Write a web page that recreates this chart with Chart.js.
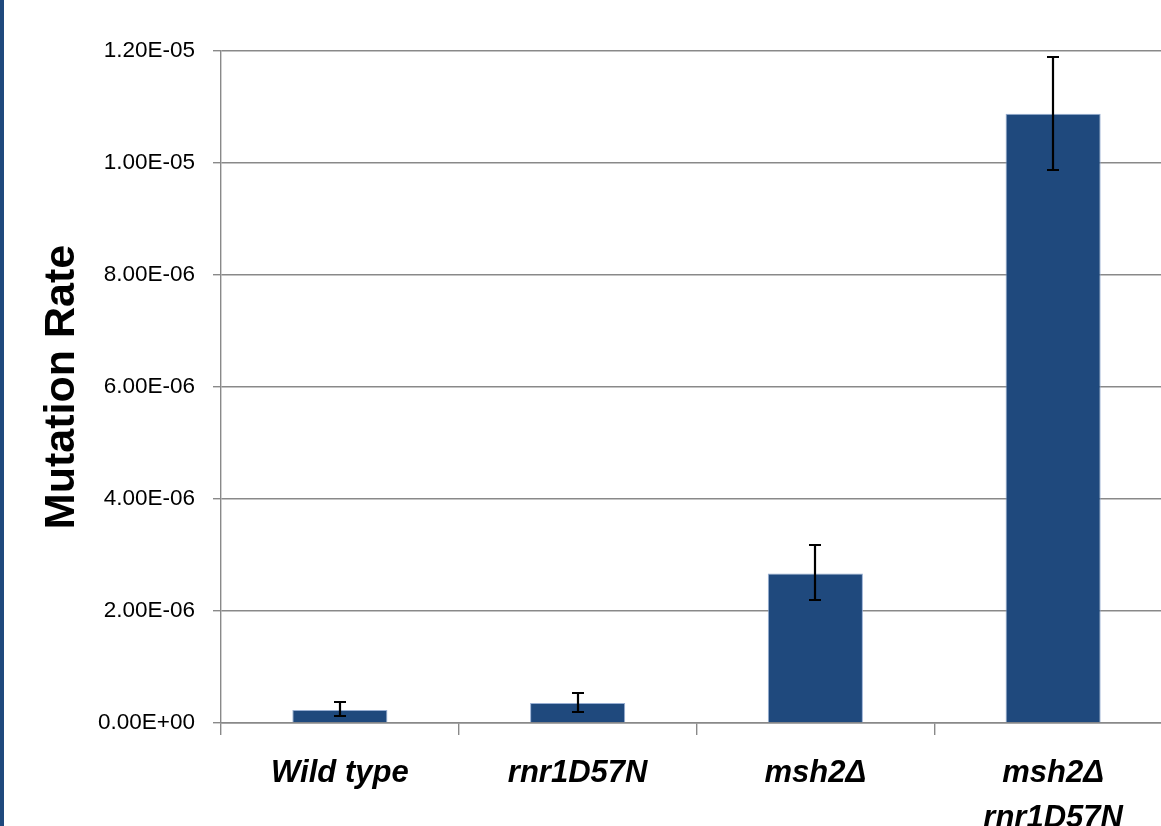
<!DOCTYPE html>
<html>
<head>
<meta charset="utf-8">
<title>Mutation Rate</title>
<script src="https://cdn.jsdelivr.net/npm/chart.js@4.4.1/dist/chart.umd.min.js"></script>
<style>
  html, body { margin: 0; padding: 0; background: #fff; overflow: hidden; }
  #wrap { position: relative; width: 1161px; height: 826px; overflow: hidden; }
  #wrap::before {
    content: ''; position: absolute; left: 0; top: 0; bottom: 0; width: 4px;
    background: #1f497d; z-index: 2;
  }
  canvas { position: absolute; left: 0; top: 0; }
</style>
</head>
<body>
<div id="wrap"><canvas id="chart" width="1180" height="826"></canvas></div>
<script>
// strains on the x axis (last one wraps onto two lines)
const strains = ['Wild type', 'rnr1D57N', 'msh2\u0394', ['msh2\u0394', 'rnr1D57N']];
// mutation rate per strain
const rates   = [2.32e-7, 3.57e-7, 2.67e-6, 1.088e-5];
// error bar bounds
const errLow  = [1.18e-7, 2.0e-7, 2.20e-6, 9.88e-6];
const errHigh = [3.68e-7, 5.36e-7, 3.17e-6, 1.19e-5];
// y axis ticks
const yTicks  = [0, 2e-6, 4e-6, 6e-6, 8e-6, 1e-5, 1.2e-5];

const GRID = '#898989';
const BAR  = '#1f497d';

// 1.20E-05 style, like the spreadsheet axis
function sci(v) {
  const [m, e] = Number(v).toExponential(2).split('e');
  const n = parseInt(e, 10);
  return m + 'E' + (n < 0 ? '-' : '+') + String(Math.abs(n)).padStart(2, '0');
}

const errorBars = {
  id: 'errorBars',
  afterDatasetsDraw(chart) {
    const { ctx, scales: { y } } = chart;
    const meta = chart.getDatasetMeta(0);
    ctx.save();
    ctx.strokeStyle = '#000';
    ctx.lineWidth = 2.2;
    meta.data.forEach((bar, i) => {
      const x = Math.round(bar.x);
      const top = Math.round(y.getPixelForValue(errHigh[i]));
      const bot = Math.round(y.getPixelForValue(errLow[i]));
      ctx.beginPath();
      ctx.moveTo(x, top); ctx.lineTo(x, bot);
      ctx.moveTo(x - 6, top); ctx.lineTo(x + 6, top);
      ctx.moveTo(x - 6, bot); ctx.lineTo(x + 6, bot);
      ctx.stroke();
    });
    ctx.restore();
  }
};

new Chart(document.getElementById('chart'), {
  type: 'bar',
  data: {
    labels: strains,
    datasets: [{
      data: rates,
      backgroundColor: BAR,
      borderColor: 'rgba(140,165,205,0.9)',
      borderWidth: 1,
      barPercentage: 0.4,
      categoryPercentage: 1,
    }],
  },
  options: {
    responsive: false,
    animation: false,
    layout: { padding: { top: 51, right: 8, bottom: 0, left: 0 } },
    plugins: { legend: { display: false }, tooltip: { enabled: false } },
    scales: {
      x: {
        offset: true,
        grid: { offset: true, drawOnChartArea: false, color: GRID, tickLength: 12, lineWidth: 1.4 },
        border: { color: GRID, width: 1.4 },
        ticks: {
          color: '#000',
          padding: 16,
          maxRotation: 0,
          autoSkip: false,
          font: { family: '"Liberation Sans", Arial, sans-serif', size: 31, weight: 'bold', style: 'italic', lineHeight: 1.45 },
        },
        afterFit(scale) { scale.height = 103; },
      },
      y: {
        min: 0,
        max: 1.2e-5,
        grid: { color: GRID, tickLength: 8, lineWidth: 1.4 },
        border: { color: GRID, width: 1.4 },
        afterBuildTicks(scale) { scale.ticks = yTicks.map(v => ({ value: v })); },
        ticks: {
          color: '#000',
          padding: 18,
          font: { family: '"Liberation Sans", Arial, sans-serif', size: 22.5 },
          callback: v => sci(v),
        },
        title: {
          display: true,
          text: 'Mutation Rate',
          color: '#000',
          padding: { top: 36, bottom: 0 },
          font: { family: '"Liberation Sans", Arial, sans-serif', size: 43, weight: 'bold' },
        },
        afterFit(scale) { scale.width = 221; },
      },
    },
  },
  plugins: [errorBars],
});
</script>
</body>
</html>
